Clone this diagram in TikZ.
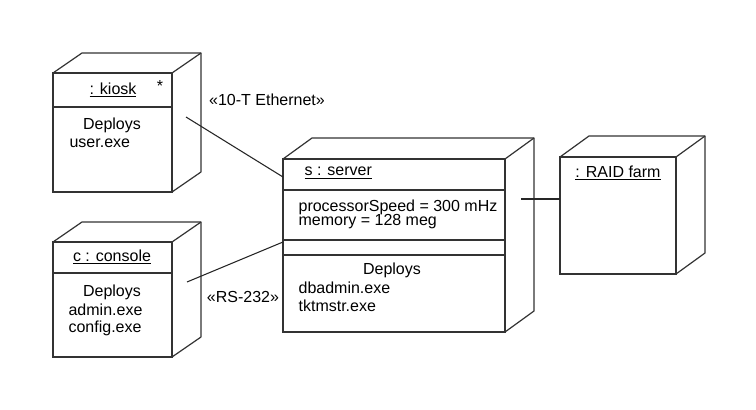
\documentclass[tikz,border=0pt]{standalone}
\usepackage{fontspec}
\setmainfont{Liberation Sans}
\usetikzlibrary{positioning}

\tikzset{
  devbox/.style={draw=black!80, line width=0.9pt, inner sep=0pt, outer sep=0pt},
  side/.style={draw=black!80, line width=0.9pt, line join=round},
  lbl/.style={font=\fontsize{12}{14}\selectfont, inner sep=1pt},
  link/.style={draw=black!85, line width=0.8pt},
}

\begin{document}
\begin{tikzpicture}[x=0.75pt, y=-0.75pt]
  \useasboundingbox[fill=white] (0,0) rectangle (756,410);

  % --- kiosk ---
  \node[devbox, minimum width=119*0.75pt, minimum height=119*0.75pt] (kiosk) at (112.5,132.5) {};
  \draw[side] (kiosk.north west) -- ++(29,-20) -- ++(119,0) -- ++(0,119) -- (kiosk.south east);
  \draw[side] (kiosk.north east) -- ++(29,-20);
  \draw[side] (kiosk.west |- 0,107) -- (kiosk.east |- 0,107);
  \node[lbl] (kiosk-name) at (113,90) {\underline{: kiosk}};
  \node[lbl] (kiosk-star) at (160,86) {*};
  \node[lbl] (kiosk-dep) at (112,125) {Deploys};
  \node[lbl, anchor=west] (kiosk-exe) at (68,143) {user.exe};

  % --- console ---
  \node[devbox, minimum width=119*0.75pt, minimum height=115*0.75pt] (console) at (112.5,299.5) {};
  \draw[side] (console.north west) -- ++(29,-20) -- ++(119,0) -- ++(0,115) -- (console.south east);
  \draw[side] (console.north east) -- ++(29,-20);
  \draw[side] (console.west |- 0,273) -- (console.east |- 0,273);
  \node[lbl] (console-name) at (112,257) {\underline{c : console}};
  \node[lbl] (console-dep) at (112,292) {Deploys};
  \node[lbl, anchor=west] (console-exe1) at (67,310) {admin.exe};
  \node[lbl, anchor=west] (console-exe2) at (67,328) {config.exe};

  % --- server ---
  \node[devbox, minimum width=222*0.75pt, minimum height=173*0.75pt] (server) at (394,245.5) {};
  \draw[side] (server.north west) -- ++(29,-21) -- ++(222,0) -- ++(0,173) -- (server.south east);
  \draw[side] (server.north east) -- ++(29,-21);
  \draw[side] (server.west |- 0,190) -- (server.east |- 0,190);
  \draw[side] (server.west |- 0,240) -- (server.east |- 0,240);
  \draw[side] (server.west |- 0,255) -- (server.east |- 0,255);
  \node[lbl, anchor=west] (server-name) at (303,173) {\underline{s : server}};
  \node[lbl, anchor=west] (server-speed) at (297,207) {processorSpeed = 300 mHz};
  \node[lbl, anchor=west] (server-mem) at (297,222) {memory = 128 meg};
  \node[lbl] (server-dep) at (392,270) {Deploys};
  \node[lbl, anchor=west] (server-exe1) at (297,288) {dbadmin.exe};
  \node[lbl, anchor=west] (server-exe2) at (297,306) {tktmstr.exe};

  % --- RAID farm ---
  \node[devbox, minimum width=116*0.75pt, minimum height=117*0.75pt] (raid) at (618,215.5) {};
  \draw[side] (raid.north west) -- ++(29,-21) -- ++(116,0) -- ++(0,117) -- (raid.south east);
  \draw[side] (raid.north east) -- ++(29,-21);
  \node[lbl] (raid-name) at (618,173) {\underline{: RAID farm}};

  % --- links ---
  \coordinate (eth-a) at (186,117);
  \coordinate (eth-b) at (server.west |- 0,177);
  \coordinate (rs-a) at (187,282);
  \coordinate (rs-b) at (server.west |- 0,242);
  \coordinate (raid-a) at (521,199);
  \coordinate (raid-b) at (raid.west |- 0,199);
  \draw[link] (eth-a) -- (eth-b);
  \draw[link] (rs-a) -- (rs-b);
  \draw[link] (raid-a) -- (raid-b);
  \node[lbl] (eth-lbl) at (267,100) {«10-T Ethernet»};
  \node[lbl] (rs-lbl) at (243,297) {«RS-232»};

\end{tikzpicture}
\end{document}
